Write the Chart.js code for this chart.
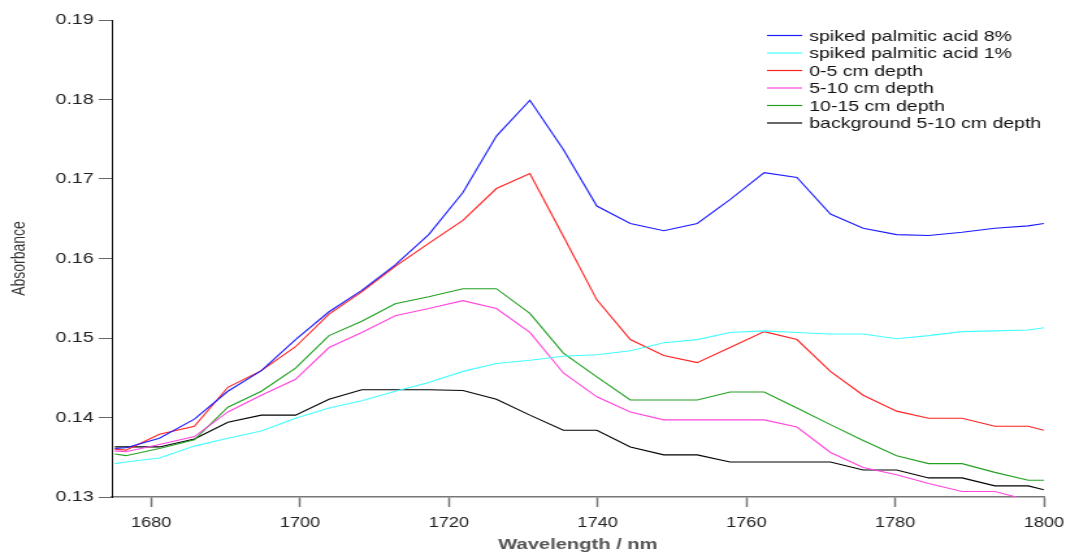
<!DOCTYPE html>
<html>
<head>
<meta charset="utf-8">
<script src="https://cdn.jsdelivr.net/npm/chart.js@4.4.1/dist/chart.umd.min.js"></script>
<style>
  html, body { margin: 0; padding: 0; background: #fff; overflow: hidden; }
  /* the source picture is stretched sideways, so draw narrow and widen it */
  #wrap { width: 820px; height: 552px; transform: scaleX(1.3); transform-origin: 0 0; }
</style>
</head>
<body>
<div id="wrap"><canvas id="spectra"></canvas></div>
<script>
// ── data ───────────────────────────────────────────────────────────────────
const wavelengths = [1675.1, 1676.6, 1681.1, 1685.8, 1690.3, 1694.8, 1699.4, 1703.9, 1708.3, 1712.8,
                     1717.3, 1721.9, 1726.4, 1730.9, 1735.4, 1739.9, 1744.4, 1748.9, 1753.4, 1757.8,
                     1762.4, 1766.8, 1771.3, 1775.7, 1780.2, 1784.5, 1789.0, 1793.4, 1797.9, 1800.0];

const spiked8  = [0.1361, 0.1362, 0.1374, 0.1398, 0.1433, 0.1459, 0.1498, 0.1533, 0.1560, 0.1592,
                  0.1630, 0.1683, 0.1754, 0.1799, 0.1737, 0.1666, 0.1644, 0.1635, 0.1644, 0.1674,
                  0.1708, 0.1702, 0.1656, 0.1638, 0.1630, 0.1629, 0.1633, 0.1638, 0.1641, 0.1644];
const spiked1  = [0.1342, 0.1344, 0.1349, 0.1364, 0.1374, 0.1383, 0.1399, 0.1412, 0.1421, 0.1433,
                  0.1444, 0.1458, 0.1468, 0.1472, 0.1477, 0.1479, 0.1484, 0.1494, 0.1498, 0.1507,
                  0.1509, 0.1507, 0.1505, 0.1505, 0.1499, 0.1503, 0.1508, 0.1509, 0.1510, 0.1513];
const depth0_5 = [0.1360, 0.1359, 0.1379, 0.1389, 0.1438, 0.1459, 0.1489, 0.1530, 0.1558, 0.1590,
                  0.1619, 0.1648, 0.1688, 0.1707, 0.1628, 0.1548, 0.1498, 0.1478, 0.1469, 0.1488,
                  0.1508, 0.1498, 0.1458, 0.1428, 0.1408, 0.1399, 0.1399, 0.1389, 0.1389, 0.1384];
const depth5_10 = [0.1358, 0.1357, 0.1366, 0.1376, 0.1407, 0.1428, 0.1448, 0.1488, 0.1507, 0.1528,
                   0.1537, 0.1547, 0.1537, 0.1507, 0.1456, 0.1426, 0.1407, 0.1397, 0.1397, 0.1397,
                   0.1397, 0.1388, 0.1356, 0.1337, 0.1328, 0.1317, 0.1307, 0.1307, 0.1296, 0.1290];
const depth10_15 = [0.1354, 0.1352, 0.1361, 0.1372, 0.1413, 0.1433, 0.1462, 0.1503, 0.1521, 0.1543,
                    0.1552, 0.1562, 0.1562, 0.1531, 0.1481, 0.1451, 0.1422, 0.1422, 0.1422, 0.1432,
                    0.1432, 0.1412, 0.1391, 0.1371, 0.1352, 0.1342, 0.1342, 0.1331, 0.1321, 0.1321];
const background5_10 = [0.1363, 0.1363, 0.1363, 0.1373, 0.1394, 0.1403, 0.1403, 0.1423, 0.1435, 0.1435,
                        0.1435, 0.1434, 0.1423, 0.1403, 0.1384, 0.1384, 0.1363, 0.1353, 0.1353, 0.1344,
                        0.1344, 0.1344, 0.1344, 0.1334, 0.1334, 0.1324, 0.1324, 0.1314, 0.1314, 0.1309];

const seriesLabels = ['spiked palmitic acid 8%', 'spiked palmitic acid 1%', '0-5 cm depth',
                      '5-10 cm depth', '10-15 cm depth', 'background 5-10 cm depth'];
const seriesValues = [spiked8, spiked1, depth0_5, depth5_10, depth10_15, background5_10];
const seriesColors = ['#1a1aff', '#44ffff', '#ff2020', '#ff44dd', '#22a022', '#000000'];

const xTicks = [1680, 1700, 1720, 1740, 1760, 1780, 1800];
const yTicks = [0.13, 0.14, 0.15, 0.16, 0.17, 0.18, 0.19];

const FONT = '"Liberation Sans", Arial, sans-serif';

// legend sits inside the plot, top right, with short line swatches
const lineLegend = {
  id: 'lineLegend',
  afterDatasetsDraw(chart) {
    const ctx = chart.ctx;
    ctx.save();
    ctx.font = `15px ${FONT}`;
    ctx.textBaseline = 'middle';
    chart.data.datasets.forEach((ds, i) => {
      const y = 35.5 + i * 17.5;
      ctx.strokeStyle = ds.borderColor;
      ctx.lineWidth = 1.2;
      ctx.beginPath();
      ctx.moveTo(590, y);
      ctx.lineTo(617, y);
      ctx.stroke();
      ctx.fillStyle = '#111';
      ctx.fillText(ds.label, 622.5, y + 1);
    });
    ctx.restore();
  }
};

new Chart(document.getElementById('spectra'), {
  type: 'line',
  data: {
    datasets: seriesLabels.map((label, i) => ({
      label,
      data: wavelengths.map((w, k) => ({ x: w, y: seriesValues[i][k] })),
      borderColor: seriesColors[i],
      backgroundColor: seriesColors[i],
      borderWidth: 1.1,
      pointRadius: 0,
      tension: 0,
      fill: false,
    })),
  },
  options: {
    responsive: true,
    maintainAspectRatio: false,
    animation: false,
    layout: { padding: { top: 20, right: 17, left: 0, bottom: 0 } },
    plugins: {
      legend: { display: false },
      tooltip: { enabled: false },
    },
    scales: {
      x: {
        type: 'linear',
        min: 1674.7,
        max: 1800,
        afterBuildTicks: s => { s.ticks = xTicks.map(v => ({ value: v })); },
        // fixed axis height; let the last label hang into the right margin
        afterFit: s => { s.height = 55; s.paddingRight = 0; s.paddingLeft = 0; },
        ticks: {
          font: { family: FONT, size: 14 }, color: '#222', padding: 8, maxRotation: 0, autoSkip: false,
          callback: v => String(v),
        },
        grid: { drawOnChartArea: false, tickLength: 10, tickColor: '#777', tickWidth: 1.5 },
        border: { color: '#777', width: 1.5 },
        title: {
          display: true, text: 'Wavelength / nm', color: '#555',
          font: { family: FONT, size: 15.5, weight: 'bold' }, padding: { top: 0, bottom: -2 },
        },
      },
      y: {
        min: 0.13,
        max: 0.19,
        afterBuildTicks: s => { s.ticks = yTicks.map(v => ({ value: v })); },
        afterFit: s => { s.width = 86; },
        ticks: { font: { family: FONT, size: 15 }, color: '#222', padding: 4, callback: v => v.toFixed(2) },
        grid: { drawOnChartArea: false, tickLength: 10, tickColor: '#666', tickWidth: 1 },
        border: { color: '#111', width: 1 },
        title: {
          display: true, text: 'Absorbance', color: '#333',
          font: { family: FONT, size: 14 }, padding: { top: 7, bottom: 0 },
        },
      },
    },
  },
  plugins: [lineLegend],
});
</script>
</body>
</html>
